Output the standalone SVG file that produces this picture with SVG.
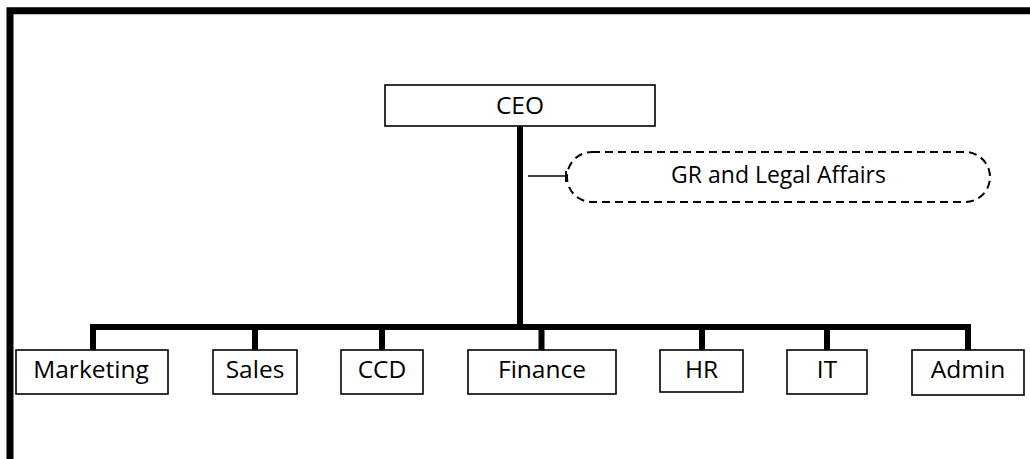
<svg xmlns="http://www.w3.org/2000/svg" width="1030" height="459" viewBox="0 0 1030 459">
<style>
.box{fill:#fff;stroke:#000;stroke-width:1.6}
.lbl{font-family:"Open Sans","Liberation Sans",sans-serif;font-size:24.5px;fill:#000;text-anchor:middle}
.small{font-size:23px}
.thick{fill:none;stroke:#000;stroke-width:6;stroke-linejoin:miter;stroke-linecap:butt}
.dash{fill:#fff;stroke:#000;stroke-width:2;stroke-dasharray:8 5}
</style>
<rect x="0" y="0" width="1030" height="459" fill="#fff"/>
<path d="M10 459 V10.7 H1030" fill="none" stroke="#000" stroke-width="7" stroke-linejoin="miter"/>
<g id="connectors">
<path class="thick" d="M520 126 V327"/>
<path class="thick" d="M93 351 V327 H968 V351"/>
<path class="thick" d="M255 327 V351"/>
<path class="thick" d="M382 327 V351"/>
<path class="thick" d="M541.5 327 V351"/>
<path class="thick" d="M702 327 V351"/>
<path class="thick" d="M827 327 V351"/>
<path d="M528 176 H566" stroke="#000" stroke-width="1.6" fill="none"/>
<path d="M566 171 V182" stroke="#000" stroke-width="2" fill="none"/>
</g>
<g id="ceo"><rect class="box" x="385" y="85" width="270" height="41"/><text class="lbl" x="520" y="113.5">CEO</text></g>
<g id="gr"><rect class="dash" x="567" y="152" width="423" height="50" rx="25" ry="25"/><text class="lbl small" x="778.5" y="183">GR and Legal Affairs</text></g>
<g id="marketing"><rect class="box" x="16" y="350" width="152" height="44"/><text class="lbl" x="91" y="378">Marketing</text></g>
<g id="sales"><rect class="box" x="213" y="350" width="84" height="44"/><text class="lbl" x="255" y="378">Sales</text></g>
<g id="ccd"><rect class="box" x="341" y="350" width="82" height="44"/><text class="lbl" x="382" y="378">CCD</text></g>
<g id="finance"><rect class="box" x="468" y="350" width="148" height="44"/><text class="lbl" x="542" y="378">Finance</text></g>
<g id="hr"><rect class="box" x="660" y="350" width="83" height="42"/><text class="lbl" x="701.5" y="378">HR</text></g>
<g id="it"><rect class="box" x="787" y="350" width="80" height="44"/><text class="lbl" x="827" y="378">IT</text></g>
<g id="admin"><rect class="box" x="912" y="350" width="112" height="45"/><text class="lbl" x="968" y="378">Admin</text></g>
</svg>
